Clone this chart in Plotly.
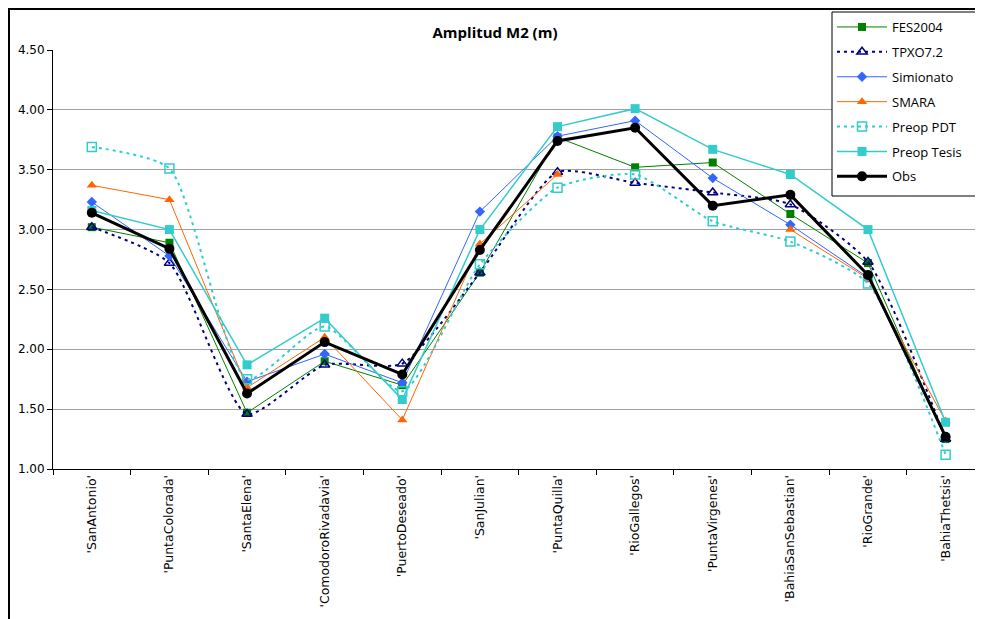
import plotly.graph_objects as go

stations = ["'SanAntonio'", "'PuntaColorada'", "'SantaElena'", "'ComodoroRivadavia'",
            "'PuertoDeseado'", "'SanJulian'", "'PuntaQuilla'", "'RioGallegos'",
            "'PuntaVirgenes'", "'BahiaSanSebastian'", "'RioGrande'", "'BahiaThetsis'"]

fes2004 = [3.02, 2.89, 1.47, 1.90, 1.70, 2.64, 3.77, 3.52, 3.56, 3.13, 2.72, 1.25]
tpxo72 = [3.02, 2.72, 1.46, 1.87, 1.88, 2.64, 3.48, 3.39, 3.31, 3.21, 2.73, 1.25]
simionato = [3.23, 2.78, 1.73, 1.96, 1.72, 3.15, 3.78, 3.91, 3.43, 3.04, 2.60, 1.26]
smara = [3.37, 3.25, 1.68, 2.10, 1.41, 2.88, 3.46, None, None, 3.00, 2.59, 1.40]
preop_pdt = [3.69, 3.51, 1.75, 2.19, 1.65, 2.71, 3.35, 3.46, 3.07, 2.90, 2.55, 1.12]
preop_tesis = [3.16, 3.00, 1.87, 2.26, 1.58, 3.00, 3.86, 4.01, 3.67, 3.46, 3.00, 1.39]
obs = [3.14, 2.84, 1.63, 2.06, 1.79, 2.83, 3.74, 3.85, 3.20, 3.29, 2.62, 1.27]

y_ticks = [1.0, 1.5, 2.0, 2.5, 3.0, 3.5, 4.0, 4.5]

series = [
    ("FES2004", fes2004, dict(color="#008000", width=1), dict(symbol="square", size=8, color="#008000"), "linear"),
    ("TPXO7.2", tpxo72, dict(color="#000080", width=2, dash="3px,4px"),
     dict(symbol="triangle-up-open", size=9, color="#000080", line=dict(width=1.5, color="#000080")), "spline"),
    ("Simionato", simionato, dict(color="#3366FF", width=1), dict(symbol="diamond", size=8, color="#3366FF"), "linear"),
    ("SMARA", smara, dict(color="#FF6600", width=1), dict(symbol="triangle-up", size=9, color="#FF6600"), "linear"),
    ("Preop PDT", preop_pdt, dict(color="#33CCCC", width=2, dash="3px,4px"),
     dict(symbol="square-open", size=9, color="#33CCCC", line=dict(width=1.5, color="#33CCCC")), "spline"),
    ("Preop Tesis", preop_tesis, dict(color="#33CCCC", width=1.5), dict(symbol="square", size=9, color="#33CCCC"), "linear"),
    ("Obs", obs, dict(color="black", width=3), dict(symbol="circle", size=10, color="black"), "linear"),
]

fig = go.Figure()
for name, vals, ln, mk, shape in series:
    ln = dict(ln, shape=shape)
    if shape == "spline":
        ln["smoothing"] = 0.6
    fig.add_trace(go.Scatter(x=stations, y=vals, name=name, mode="lines+markers",
                             line=ln, marker=mk, legendgroup=name, connectgaps=False))

# page body adds an 8px offset, so layout is placed 8px up/left of the reference
def px_x(p):
    return (p - 45) / 938

def px_y(p):
    return (461 - p) / 419

fig.update_layout(
    width=983, height=619,
    margin=dict(l=45, r=0, t=42, b=158),
    paper_bgcolor="white", plot_bgcolor="white",
    font=dict(family="DejaVu Sans", size=11, color="black"),
    title=dict(text="<b>Amplitud M2 (m)</b>", x=487 / 983, xanchor="center", y=1 - 25 / 619, yanchor="middle",
               font=dict(family="Open Sans", size=15, color="black")),
    legend=dict(x=px_x(824), y=px_y(4), xanchor="left", yanchor="top",
                bgcolor="rgba(0,0,0,0)", borderwidth=0,
                font=dict(family="Open Sans", size=13, color="black"),
                tracegroupgap=5, itemwidth=50),
    shapes=[
        # outer chart frame
        dict(type="rect", xref="paper", yref="paper",
             x0=px_x(1), x1=1.2, y0=-0.5, y1=px_y(1),
             line=dict(color="black", width=2), fillcolor="rgba(0,0,0,0)", layer="below"),
        # legend box
        dict(type="rect", xref="paper", yref="paper",
             x0=px_x(824), x1=px_x(970), y0=px_y(188), y1=px_y(4),
             line=dict(color="black", width=1), fillcolor="white", layer="above"),
    ],
)

fig.update_xaxes(
    type="category", range=[-0.5, 11.585],
    showline=True, linecolor="black", linewidth=1,
    ticks="outside", tickson="boundaries", ticklen=5, tickcolor="black",
    tickangle=-90, showgrid=False, tickfont=dict(family="DejaVu Sans", size=12.5),
)
fig.update_yaxes(
    range=[1.0, 4.5], tickvals=y_ticks, tickformat=".2f",
    showline=True, linecolor="black", linewidth=1,
    ticks="outside", ticklen=5, tickcolor="black",
    showgrid=True, gridcolor="#a0a0a0", gridwidth=1, zeroline=False,
    tickfont=dict(family="DejaVu Sans", size=12),
)

fig.write_html("out.html")
